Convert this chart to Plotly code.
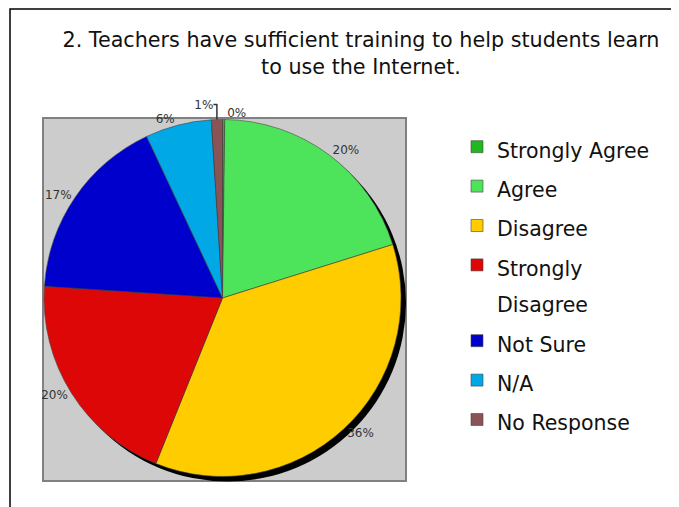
import plotly.graph_objects as go

# 응답 항목과 비율(%)
labels = ['Strongly Agree', 'Agree', 'Disagree', 'Strongly<br>Disagree', 'Not Sure', 'N/A', 'No Response']
values = [0.2, 20, 36, 20, 17, 6, 1]
pct_text = ['0%', '20%', '36%', '20%', '17%', '6%', '1%']
colors = ['#20B820', '#4DE35A', '#FFCC00', '#DD0707', '#0000CC', '#00A8E6', '#8A5456']

W, H = 679, 507
OFF = 8  # 페이지 body 여백만큼 보정

def px_x(x):
    return (x - OFF) / W

def px_y(y):
    return 1 - (y - OFF) / H

# 범례 글자는 작게, 줄 간격은 넓게
legend_labels = ['<span style="font-size:20.5px">%s</span>' % s for s in labels]

fig = go.Figure()

# 그림자용 검은 원 (오른쪽 아래로 약간 이동)
fig.add_trace(go.Pie(
    values=[1], labels=['shadow'], marker=dict(colors=['#000000']),
    textinfo='none', hoverinfo='skip', showlegend=False, sort=False,
    domain=dict(x=[px_x(49), px_x(406)], y=[px_y(482), px_y(124)])
))

fig.add_trace(go.Pie(
    labels=legend_labels, values=values, text=pct_text,
    textinfo='text', textposition='outside',
    textfont=dict(family='DejaVu Sans', size=12, color='#333333'),
    marker=dict(colors=colors, line=dict(color='#444444', width=0.6)),
    sort=False, direction='clockwise', rotation=0,
    domain=dict(x=[px_x(44), px_x(401)], y=[px_y(477), px_y(119)]),
    hovertemplate='%{label}: %{text}<extra></extra>'
))

fig.update_layout(
    width=W, height=H,
    margin=dict(l=0, r=0, t=0, b=0),
    paper_bgcolor='white',
    font=dict(family='DejaVu Sans', color='#111111'),
    title=dict(
        text='2. Teachers have sufficient training to help students learn<br>to use the Internet.',
        x=px_x(361), xanchor='center', y=px_y(47), yanchor='top',
        font=dict(size=20.7, family='DejaVu Sans', color='#111111')
    ),
    legend=dict(
        x=px_x(457), xanchor='left', y=px_y(122), yanchor='top',
        font=dict(size=28, family='DejaVu Sans', color='#111111'),
        valign='top', bgcolor='rgba(0,0,0,0)'
    ),
    shapes=[
        # 바깥 테두리
        dict(type='rect', xref='paper', yref='paper',
             x0=px_x(10), x1=1.2, y0=-0.2, y1=px_y(9),
             line=dict(color='black', width=1.5), layer='below'),
        # 회색 플롯 영역
        dict(type='rect', xref='paper', yref='paper',
             x0=px_x(43), x1=px_x(406), y0=px_y(481), y1=px_y(118),
             fillcolor='#CCCCCC', line=dict(color='#808080', width=2), layer='below'),
    ]
)

fig.write_html('out.html')
